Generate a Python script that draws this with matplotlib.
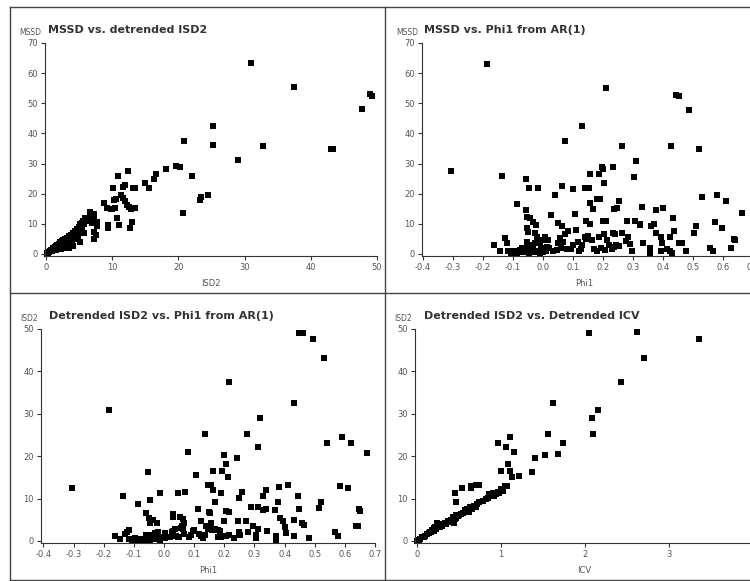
import matplotlib
matplotlib.use("Agg")
import matplotlib.pyplot as plt
from matplotlib.lines import Line2D
import numpy as np

# (ISD2, MSSD)
mssd_vs_isd2 = [
    (31.0, 63.2), (37.5, 55.3), (49.0, 53.0), (49.3, 52.5), (47.7, 48.0), (25.3, 42.5),
    (20.9, 37.5), (25.3, 36.0), (32.8, 35.7), (43.0, 34.8), (43.3, 34.8), (29.0, 31.0),
    (19.6, 29.1), (20.3, 29.0), (18.1, 28.2), (16.6, 26.5), (16.3, 24.7), (22.0, 25.7),
    (12.4, 27.5), (10.9, 26.0), (15.0, 23.4), (15.5, 21.8), (10.1, 21.9), (11.6, 22.3),
    (12.0, 22.8), (13.1, 21.9), (13.4, 21.9), (24.5, 19.7), (23.4, 18.8), (23.2, 18.0),
    (20.7, 13.6), (11.4, 19.6), (11.7, 18.5), (11.9, 17.4), (12.2, 16.3), (12.5, 15.7),
    (12.9, 14.8), (13.4, 15.2), (10.5, 18.1), (10.3, 17.9), (8.7, 16.8), (9.2, 15.2),
    (9.8, 14.8), (10.0, 15.0), (10.4, 15.2), (6.7, 14.0), (7.3, 13.3), (6.7, 12.4),
    (7.7, 10.7), (7.3, 11.3), (7.0, 10.4), (7.7, 9.1), (9.3, 9.6), (9.4, 8.7), (10.7, 11.8),
    (11.0, 9.6), (13.0, 10.7), (12.7, 8.5), (7.3, 7.4), (7.5, 6.3), (7.3, 4.9), (5.7, 7.1),
    (0.1, 0.1), (0.2, 0.4), (0.3, 0.3), (0.4, 0.7), (0.5, 0.5), (0.6, 1.0), (0.7, 0.8),
    (0.8, 1.3), (0.9, 1.0), (1.0, 1.6), (1.0, 1.2), (1.1, 2.0), (1.2, 1.5), (1.3, 2.3),
    (1.4, 1.8), (1.5, 2.7), (1.5, 1.4), (1.6, 2.2), (1.7, 3.0), (1.8, 2.4), (1.9, 3.4),
    (2.0, 2.1), (2.0, 2.9), (2.1, 3.8), (2.2, 2.6), (2.3, 3.3), (2.4, 4.2), (2.5, 2.8),
    (2.5, 3.7), (2.6, 4.6), (2.7, 3.2), (2.8, 4.0), (2.9, 5.0), (3.0, 3.5), (3.0, 4.4),
    (3.4, 1.9), (3.2, 5.4), (3.3, 3.9), (3.4, 4.8), (3.5, 5.9), (3.6, 4.3), (3.7, 5.2),
    (3.8, 6.4), (3.9, 4.7), (4.0, 5.7), (4.1, 7.0), (4.2, 5.0), (4.3, 6.2), (4.4, 7.6),
    (4.5, 5.5), (4.6, 6.8), (4.7, 8.2), (4.8, 6.0), (4.9, 7.4), (5.0, 8.9), (5.1, 9.8),
    (5.2, 7.9), (5.3, 9.3), (5.4, 10.4), (5.5, 8.5), (5.6, 11.0), (5.8, 9.8), (5.9, 12.0),
    (6.1, 10.8), (6.3, 11.5), (4.0, 3.3), (3.6, 3.0), (2.2, 1.5), (1.9, 3.0), (5.1, 4.1),
    (4.1, 2.6), (2.6, 2.0), (3.1, 2.6),
]

# (Phi1, MSSD)
mssd_vs_phi1 = [
    (-0.187, 63.0), (-0.305, 27.5), (-0.137, 26.0), (0.209, 55.2), (0.131, 42.5), (0.074, 37.4),
    (0.263, 35.9), (0.442, 52.8), (0.454, 52.4), (0.486, 47.8), (0.426, 35.8), (0.521, 34.8),
    (0.310, 30.9), (0.304, 25.6), (0.234, 29.0), (0.198, 29.0), (0.200, 28.2), (0.186, 26.6),
    (0.156, 26.6), (0.202, 23.5), (0.141, 22.0), (0.153, 22.0), (0.100, 21.7), (0.064, 22.6),
    (-0.056, 24.7), (-0.048, 22.0), (-0.017, 22.0), (0.040, 19.4), (-0.088, 16.6), (0.179, 18.1),
    (0.189, 18.2), (0.158, 17.0), (0.166, 14.9), (0.253, 17.6), (0.238, 14.8), (0.247, 15.2),
    (0.330, 15.5), (0.376, 14.7), (0.401, 15.2), (0.530, 18.8), (0.580, 19.5), (0.610, 17.6),
    (0.663, 13.6), (0.638, 5.1), (0.640, 4.6), (0.626, 1.8), (0.598, 8.6), (0.572, 10.6),
    (0.558, 1.8), (0.567, 1.1), (0.511, 9.1), (0.504, 7.0), (0.478, 1.0), (0.453, 3.6),
    (0.462, 3.6), (0.438, 7.5), (0.434, 11.8), (0.422, 5.6), (0.414, 1.6), (0.423, 1.0),
    (0.430, 0.3), (0.395, 5.5), (0.398, 3.5), (0.392, 1.0), (0.376, 7.0), (0.369, 10.0),
    (0.361, 9.2), (0.358, 1.8), (0.358, 0.0), (0.334, 3.5), (0.324, 9.8), (0.322, 9.6),
    (0.306, 10.8), (0.296, 1.0), (0.290, 3.2), (0.283, 5.6), (0.278, 4.4), (0.279, 11.0),
    (0.264, 7.0), (0.245, 3.0), (0.253, 2.6), (0.237, 2.4), (0.240, 6.6), (0.230, 1.5),
    (0.220, 3.0), (0.210, 11.0), (0.200, 10.8), (0.203, 6.5), (0.186, 5.5), (0.207, 1.3),
    (0.195, 1.8), (0.180, 1.0), (0.170, 1.5), (0.213, 4.5), (0.234, 6.9), (0.162, 4.5),
    (0.150, 6.0), (0.143, 11.0), (0.157, 10.0), (0.145, 4.8), (0.140, 5.5), (0.130, 3.0),
    (0.128, 1.5), (0.118, 4.0), (0.107, 13.3), (0.110, 7.8), (0.100, 3.0), (0.095, 1.5),
    (0.085, 7.5), (0.075, 6.5), (0.068, 4.1), (0.062, 9.1), (0.051, 10.2), (0.057, 5.2),
    (0.051, 3.5), (0.046, 1.3), (0.034, 0.8), (0.026, 12.9), (0.018, 4.6), (0.012, 2.4),
    (0.007, 5.7), (0.001, 4.6), (-0.010, 3.5), (0.020, 1.8), (0.010, 1.0), (0.000, 0.5),
    (-0.005, 2.0), (-0.019, 5.7), (-0.027, 6.9), (-0.023, 9.6), (-0.032, 10.7), (-0.043, 11.8),
    (-0.052, 12.4), (-0.057, 14.6), (-0.054, 8.5), (-0.049, 7.4), (-0.054, 4.1), (-0.043, 3.0),
    (-0.032, 2.4), (-0.027, 3.5), (-0.015, 1.0), (-0.025, 0.5), (-0.035, 1.2), (-0.045, 0.3),
    (-0.055, 1.0), (-0.065, 0.6), (-0.075, 1.3), (-0.085, 0.4), (-0.095, 0.9), (-0.105, 0.3),
    (-0.115, 1.0), (-0.127, 5.2), (-0.119, 3.5), (-0.163, 3.0), (-0.143, 0.8), (-0.070, 2.0),
    (-0.060, 1.8), (-0.010, 0.3), (0.060, 1.9), (0.080, 1.5), (0.120, 0.9),
]

# (Phi1, ISD2)
isd2_vs_phi1 = [
    (0.448, 49.0), (0.462, 49.1), (0.494, 47.6), (0.531, 43.1), (0.216, 37.4), (0.432, 32.6),
    (-0.183, 30.9), (0.319, 29.1), (0.136, 25.2), (0.274, 25.2), (0.590, 24.6), (0.541, 23.2),
    (0.619, 23.0), (0.312, 22.1), (0.674, 20.7), (0.078, 20.9), (0.200, 20.3), (0.243, 19.6),
    (0.207, 18.1), (0.194, 16.5), (0.163, 16.5), (0.211, 15.0), (0.106, 15.5), (-0.052, 16.2),
    (0.145, 13.3), (0.155, 13.2), (0.583, 13.0), (0.610, 12.4), (-0.305, 12.4), (0.382, 12.7),
    (0.412, 13.3), (0.339, 12.1), (0.071, 11.6), (0.045, 11.4), (-0.012, 11.4), (0.162, 11.9),
    (0.190, 11.4), (0.260, 11.6), (-0.136, 10.7), (0.445, 10.5), (0.248, 10.1), (0.328, 10.7),
    (-0.046, 9.7), (0.170, 9.1), (0.520, 9.1), (-0.086, 8.7), (0.378, 9.1), (0.514, 7.7),
    (0.648, 7.5), (0.651, 7.1), (0.114, 7.5), (0.207, 7.0), (0.215, 6.8), (0.290, 8.0),
    (0.311, 8.0), (0.330, 7.3), (0.338, 7.6), (0.368, 7.3), (0.449, 7.6), (0.148, 6.9),
    (0.153, 6.6), (0.029, 6.4), (0.031, 5.6), (0.054, 5.7), (0.062, 5.1), (0.067, 4.2),
    (-0.059, 6.5), (-0.051, 5.4), (-0.046, 4.3), (-0.035, 5.0), (-0.024, 4.2), (0.124, 4.6),
    (0.156, 4.2), (0.151, 3.3), (0.200, 4.6), (0.244, 4.7), (0.272, 4.7), (0.296, 3.6),
    (0.384, 5.4), (0.395, 4.6), (0.430, 4.9), (0.459, 4.3), (0.463, 3.8), (0.402, 3.3),
    (0.568, 2.1), (0.577, 1.1), (0.636, 3.4), (0.642, 3.4), (0.480, 0.7), (0.430, 1.2),
    (0.406, 1.9), (0.371, 1.2), (0.370, 0.2), (0.342, 2.4), (0.305, 1.5), (0.304, 0.6),
    (0.313, 2.8), (0.278, 2.1), (0.250, 2.0), (0.252, 1.3), (0.232, 0.7), (0.190, 1.0),
    (0.178, 0.8), (0.205, 1.2), (0.215, 1.5), (0.170, 2.9), (0.178, 2.6), (0.187, 2.3),
    (0.140, 3.6), (0.146, 2.8), (0.150, 3.1), (0.160, 2.5), (0.124, 1.1), (0.130, 0.7),
    (0.136, 1.3), (0.115, 1.7), (0.100, 2.5), (0.096, 2.3), (0.082, 1.0), (0.088, 1.5),
    (0.068, 1.7), (0.060, 3.4), (0.056, 3.1), (0.063, 2.8), (0.040, 1.2), (0.045, 0.8),
    (0.050, 0.8), (0.020, 1.0), (0.025, 2.0), (0.030, 2.3), (0.035, 2.8), (0.005, 0.6),
    (0.008, 1.0), (0.002, 1.8), (-0.010, 0.9), (-0.015, 0.5), (-0.012, 0.2), (-0.025, 0.4),
    (-0.035, 0.7), (-0.045, 0.3), (-0.055, 0.6), (-0.065, 0.2), (-0.075, 0.5), (-0.085, 0.3),
    (-0.095, 0.6), (-0.105, 0.2), (-0.115, 0.4), (-0.040, 1.5), (-0.030, 1.8), (-0.060, 1.4),
    (-0.020, 2.2), (-0.162, 1.1), (-0.145, 0.4), (-0.130, 1.6), (-0.117, 2.5), (-0.123, 2.0),
]

# (ICV, ISD2)
isd2_vs_icv = [
    (2.05, 49.0), (2.62, 49.2), (3.36, 47.6), (2.70, 43.1), (2.43, 37.4), (1.62, 32.6),
    (2.16, 30.9), (2.08, 29.1), (2.10, 25.2), (1.56, 25.2), (1.11, 24.6), (0.96, 23.2),
    (1.74, 23.0), (1.06, 22.1), (1.15, 20.9), (1.68, 20.6), (1.52, 20.3), (1.40, 19.6),
    (1.08, 18.1), (1.00, 16.5), (1.11, 16.5), (1.37, 16.2), (1.21, 15.4), (1.13, 15.0),
    (0.70, 13.3), (0.74, 13.3), (0.64, 13.0), (0.64, 12.5), (0.54, 12.4), (1.05, 13.0),
    (0.45, 11.4), (0.47, 9.1),
    (0.00, 0.0), (0.02, 0.2), (0.04, 0.5), (0.06, 0.8), (0.08, 1.0), (0.10, 1.2), (0.12, 1.6),
    (0.14, 1.8), (0.15, 2.2), (0.17, 2.0), (0.18, 2.6), (0.20, 2.4), (0.20, 3.0), (0.22, 3.3),
    (0.23, 2.8), (0.24, 4.3), (0.25, 3.5), (0.27, 3.2), (0.28, 3.9), (0.30, 3.6), (0.31, 4.0),
    (0.33, 4.2), (0.35, 4.0), (0.37, 4.6), (0.39, 4.4), (0.40, 5.0), (0.42, 4.8), (0.43, 5.6),
    (0.44, 4.3), (0.45, 5.2), (0.46, 6.2), (0.47, 5.5), (0.49, 5.8), (0.50, 6.0), (0.52, 6.3),
    (0.55, 6.6), (0.57, 7.2), (0.58, 6.8), (0.60, 7.5), (0.62, 6.9), (0.63, 8.1), (0.65, 7.6),
    (0.66, 8.0), (0.68, 8.3), (0.70, 7.9), (0.72, 8.8), (0.74, 9.1), (0.78, 9.3), (0.82, 9.8),
    (0.85, 10.2), (0.86, 11.0), (0.88, 10.6), (0.90, 11.3), (0.92, 10.5), (0.94, 11.0),
    (0.96, 11.6), (0.98, 11.2), (1.00, 12.2), (1.02, 11.8), (1.07, 13.0),
]

titles = ["MSSD vs. detrended ISD2", "MSSD vs. Phi1 from AR(1)",
          "Detrended ISD2 vs. Phi1 from AR(1)", "Detrended ISD2 vs. Detrended ICV"]
ylabels = ["MSSD", "MSSD", "ISD2", "ISD2"]
xlabels = ["ISD2", "Phi1", "Phi1", "ICV"]
phi_ticks = [-0.4, -0.3, -0.2, -0.1, 0.0, 0.1, 0.2, 0.3, 0.4, 0.5, 0.6, 0.7]

W, H = 750, 581
fig = plt.figure(figsize=(7.5, 5.81), dpi=100)

# axes boxes in pixels: left, right, top, bottom
boxes = [(45, 377, 43, 256), (422, 759, 43, 256), (41, 375, 329, 543), (415, 753, 329, 543)]
xlims = [(-0.15, 50), (-0.403, 0.72), (-0.408, 0.70), (-0.024, 4.0)]
ylims = [(-0.7, 70), (-0.7, 70), (-0.5, 50), (-0.5, 50)]
title_x = [0.008, 0.006, 0.024, 0.027]
xlabel_x = [0.5, 0.48, 0.5, 0.5]
datasets = [mssd_vs_isd2, mssd_vs_phi1, isd2_vs_phi1, isd2_vs_icv]

for i, (l, r, t, b) in enumerate(boxes):
    ax = fig.add_axes([l / W, (H - b) / H, (r - l) / W, (b - t) / H])
    pts = np.array(datasets[i])
    ax.scatter(pts[:, 0], pts[:, 1], s=14, marker='s', color='black', linewidths=0, clip_on=False)
    ax.set_xlim(*xlims[i])
    ax.set_ylim(*ylims[i])
    for side in ['top', 'right']:
        ax.spines[side].set_visible(False)
    for side in ['left', 'bottom']:
        ax.spines[side].set_color('#333333')
        ax.spines[side].set_linewidth(0.8)

    if i == 0:
        ax.set_xticks([0, 10, 20, 30, 40, 50])
    elif i == 3:
        ax.set_xticks([0, 1, 2, 3, 4])
    else:
        ax.set_xticks(phi_ticks)
        ax.set_xticklabels(['%.1f' % v for v in phi_ticks])
    if i < 2:
        ax.set_yticks(np.arange(0, 71, 10))
    else:
        ax.set_yticks(np.arange(0, 51, 10))
    ax.tick_params(direction='out', length=3, width=0.8, color='#333333',
                   labelsize=6, labelcolor='#555555', pad=2)

    ax.text(title_x[i], 1.061, titles[i], transform=ax.transAxes,
            fontsize=8, fontweight='bold', color='#333333', ha='left', va='center')
    ax.text(-0.01, 1.05, ylabels[i], transform=ax.transAxes,
            fontsize=5.5, color='#555555', ha='right', va='center')
    ax.text(xlabel_x[i], -0.13, xlabels[i], transform=ax.transAxes,
            fontsize=6, color='#555555', ha='center', va='center')

# panel borders
def hline(y, x0, x1):
    fig.add_artist(Line2D([x0 / W, x1 / W], [1 - y / H, 1 - y / H], color='#444444', lw=1))

def vline(x, y0, y1):
    fig.add_artist(Line2D([x / W, x / W], [1 - y0 / H, 1 - y1 / H], color='#444444', lw=1))

hline(7, 10, 750)
hline(293, 10, 750)
hline(580, 10, 750)
vline(10, 7, 580)
vline(385, 7, 580)

fig.savefig("out.png", dpi=100)
